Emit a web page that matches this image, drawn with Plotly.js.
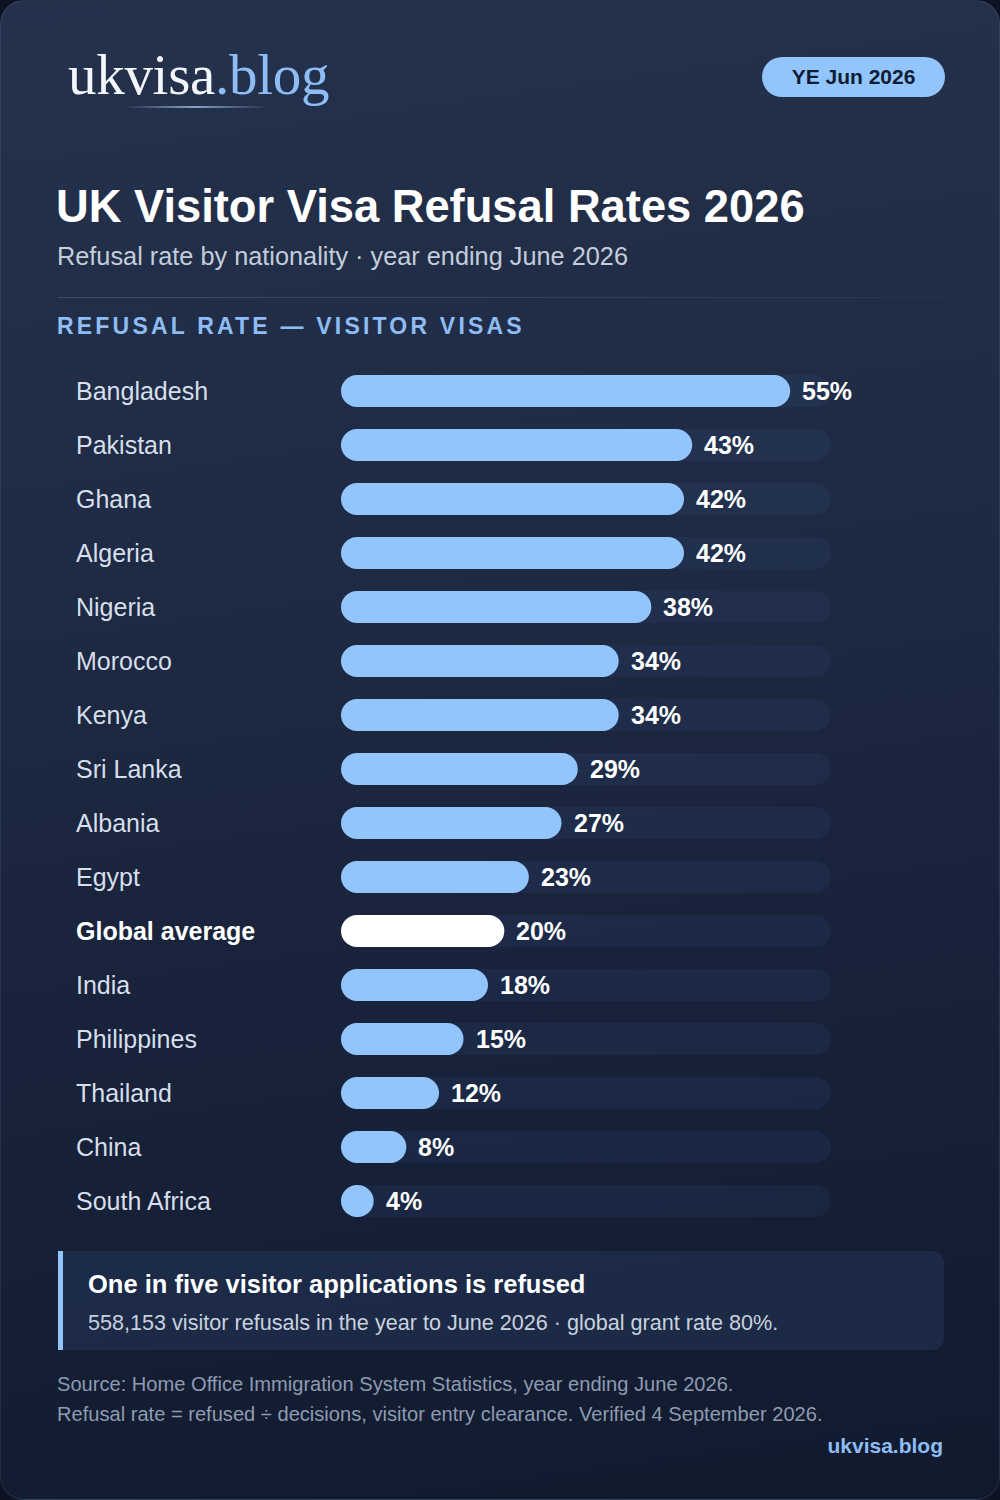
<!DOCTYPE html>
<html>
<head>
<meta charset="utf-8">
<script src="https://cdn.plot.ly/plotly-3.0.1.min.js"></script>
<style>
  html, body { margin:0; padding:0; background:#0d1322; }
  #card { position:absolute; left:0; top:0; width:1000px; height:1500px; box-sizing:border-box;
    border-radius:24px; overflow:hidden; border:1px solid rgba(148,170,210,0.14);
    background:linear-gradient(172deg, #25324d 0%, #1f2b44 35%, #18223a 65%, #111a2d 100%);
    font-family:"Liberation Sans", Arial, Helvetica, sans-serif; }
  #chart { position:absolute; left:0; top:0; width:1000px; height:1500px; }
  .t { position:absolute; white-space:nowrap; }
</style>
</head>
<body>
<div id="card">
  <div id="chart"></div>
  <div class="t" style="left:67px; top:46px; font-family:'Liberation Serif','DejaVu Serif',serif; font-size:57px; line-height:56px; color:#f3f6fb; letter-spacing:-0.3px;">ukvisa<span style="color:#8dbdf4">.blog</span></div>
  <div class="t" style="left:122px; top:105px; width:145px; height:1.5px; background:linear-gradient(90deg, rgba(147,197,253,0) 0%, rgba(170,200,240,0.75) 50%, rgba(147,197,253,0) 100%);"></div>
  <div class="t" style="left:761px; top:56px; width:183px; height:40px; border-radius:20px; background:#93c5fd; color:#0f1c35; font-weight:bold; font-size:21px; line-height:40px; text-align:center;">YE Jun 2026</div>
  <div class="t" style="left:55px; top:181px; font-size:45.3px; line-height:50px; font-weight:bold; color:#ffffff;">UK Visitor Visa Refusal Rates 2026</div>
  <div class="t" style="left:56px; top:240px; font-size:25.3px; line-height:30px; color:#c3cddb;">Refusal rate by nationality · year ending June 2026</div>
  <div class="t" style="left:57px; top:296px; width:886px; height:1px; background:linear-gradient(90deg, rgba(200,215,240,0.18), rgba(200,215,240,0.10) 60%, rgba(200,215,240,0.04));"></div>
  <div class="t" style="left:56px; top:312px; font-size:23px; line-height:26px; font-weight:bold; color:#8dbdf4; letter-spacing:3.2px;">REFUSAL RATE — VISITOR VISAS</div>

  <div class="t" style="left:57px; top:1250px; width:886px; height:99px; border-radius:0 12px 12px 0; background:rgba(35,52,88,0.55); border-left:5px solid #93c5fd; box-sizing:border-box;"></div>
  <div class="t" style="left:87px; top:1268px; font-size:25.5px; line-height:30px; font-weight:bold; color:#ffffff;">One in five visitor applications is refused</div>
  <div class="t" style="left:87px; top:1310px; font-size:21.6px; line-height:24px; color:#c8d1de;">558,153 visitor refusals in the year to June 2026 · global grant rate 80%.</div>

  <div class="t" style="left:56px; top:1372px; font-size:20.1px; line-height:22px; color:#8e9bb1;">Source: Home Office Immigration System Statistics, year ending June 2026.</div>
  <div class="t" style="left:56px; top:1402px; font-size:20.1px; line-height:22px; color:#8e9bb1;">Refusal rate = refused ÷ decisions, visitor entry clearance. Verified 4 September 2026.</div>
  <div class="t" style="right:56px; top:1433px; font-size:21px; line-height:24px; font-weight:bold; color:#8dbdf4;">ukvisa.blog</div>
</div>

<script>
// ---- data ----
const countries = ["Bangladesh","Pakistan","Ghana","Algeria","Nigeria","Morocco","Kenya","Sri Lanka","Albania","Egypt","Global average","India","Philippines","Thailand","China","South Africa"];
const rates = [55,43,42,42,38,34,34,29,27,23,20,18,15,12,8,4];
const highlight = "Global average";
const scaleMax = 60;

// ---- styling ----
const barColor = "#93c5fd";
const highlightColor = "#ffffff";
const trackColor = "rgba(50,75,125,0.18)";
const barWidth = 0.593;
const radius = 16;

const colors = countries.map(c => c === highlight ? highlightColor : barColor);
const font = '"Liberation Sans", Arial, Helvetica, sans-serif';

const trackTrace = {
  type: "bar", orientation: "h", name: "track",
  y: countries, x: countries.map(() => scaleMax), base: countries.map(() => 0),
  width: barWidth, marker: { color: trackColor, cornerradius: radius, line: { width: 0 } },
  hoverinfo: "skip", showlegend: false
};
const rateTrace = {
  type: "bar", orientation: "h", name: "Refusal rate",
  y: countries, x: rates, base: countries.map(() => 0),
  width: barWidth, marker: { color: colors, cornerradius: radius, line: { width: 0 } },
  hovertemplate: "%{y}: %{x}%<extra></extra>", showlegend: false
};

const annotations = [];
countries.forEach((c, i) => {
  const hl = c === highlight;
  annotations.push({
    xref: "paper", yref: "y", x: 0.073, y: c, xanchor: "left", yanchor: "middle",
    text: c, showarrow: false,
    font: { family: font, size: 25, color: hl ? "#ffffff" : "#d6dfeb", weight: hl ? "bold" : "normal" }
  });
  annotations.push({
    xref: "x", yref: "y", x: rates[i], y: c, xanchor: "left", yanchor: "middle", xshift: 10,
    text: rates[i] + "%", showarrow: false,
    font: { family: font, size: 25, color: "#ffffff", weight: "bold" }
  });
});

const layout = {
  width: 1000, height: 1500,
  margin: { l: 0, r: 0, t: 0, b: 0 },
  paper_bgcolor: "rgba(0,0,0,0)", plot_bgcolor: "rgba(0,0,0,0)",
  barmode: "overlay",
  showlegend: false,
  xaxis: { domain: [0.34, 0.83], range: [0, scaleMax], visible: false, fixedrange: true },
  yaxis: { domain: [1 - 1227/1500, 1 - 363/1500], type: "category", categoryorder: "array",
           categoryarray: countries, range: [countries.length - 0.5, -0.5],
           visible: false, fixedrange: true },
  annotations: annotations,
  font: { family: font }
};

Plotly.newPlot("chart", [trackTrace, rateTrace], layout, { displayModeBar: false, staticPlot: true });
</script>
</body>
</html>
